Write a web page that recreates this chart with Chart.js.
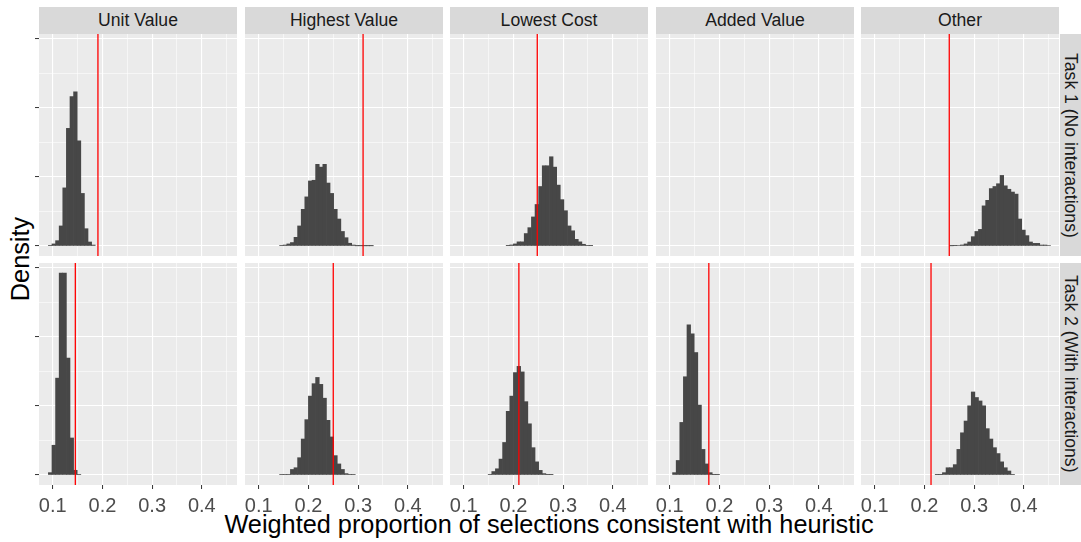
<!DOCTYPE html>
<html lang="en">
<head>
<meta charset="UTF-8">
<title>Weighted proportion of selections</title>
<script src="https://cdn.jsdelivr.net/npm/chart.js@4/dist/chart.umd.min.js"></script>
<style>
    * { margin: 0; padding: 0; box-sizing: border-box; }
    body {
        width: 1081px;
        height: 542px;
        background: #fff;
        position: relative;
        overflow: hidden;
        font-family: "Liberation Sans", Arial, sans-serif;
    }
    canvas { position: absolute; }
    .strip {
        position: absolute;
        background: #D9D9D9;
        color: #1A1A1A;
        font-size: 17.6px;
        display: flex;
        align-items: center;
        justify-content: center;
        white-space: nowrap;
    }
    .strip.side { writing-mode: vertical-rl; }
    .axis-title {
        position: absolute;
        color: #000;
        font-size: 25.3px;
        line-height: 28px;
        white-space: nowrap;
    }
</style>
</head>
<body>
<div class="axis-title" id="xTitle" style="left:39px; width:1020px; top:510px; text-align:center;">Weighted proportion of selections consistent with heuristic</div>
<div class="axis-title" id="yTitle" style="left:-30px; width:100px; top:245px; text-align:center; transform:rotate(-90deg);">Density</div>

<script>
    // facets and labels
    const facets = ['Unit Value', 'Highest Value', 'Lowest Cost', 'Added Value', 'Other'];
    const tasks = ['Task 1 (No interactions)', 'Task 2 (With interactions)'];

    // axis breaks (major ones carry labels / tick marks)
    const xBreaks = [0.1, 0.2, 0.3, 0.4];
    const xMinorBreaks = [0.15, 0.25, 0.35, 0.45];
    const yBreaks = [0, 10, 20, 30];
    const yMinorBreaks = [5, 15, 25];

    // histogram bins shared by every panel
    const binStart = 0.09125;
    const binWidth = 0.00725;

    // Task 1 densities (first = index of first bin drawn)
    const task1First = [0, 7, 13, 0, 22];
    const task1UnitValue = [0.1, 0.3, 0.77, 2.9, 8.4, 17.0, 21.6, 22.3, 15.2, 7.6, 2.5, 0.58, 0.14];
    const task1HighestValue = [0.1, 0.14, 0.3, 0.5, 1.25, 2.9, 5.3, 7.1, 9.4, 9.5, 11.8, 11.4, 11.8, 9.1, 7.6, 5.3, 3.9, 2.1, 1.2, 0.4, 0.14, 0.03, 0.03, 0.03, 0.03, 0.03];
    const task1LowestCost = [0.05, 0.15, 0.3, 0.6, 0.6, 1.8, 2.65, 4.2, 6.0, 8.6, 11.6, 11.6, 12.9, 11.4, 8.8, 6.7, 5.1, 2.9, 2.2, 0.96, 0.6, 0.25, 0.1, 0.05];
    const task1AddedValue = [];
    const task1Other = [0.03, 0.05, 0.08, 0.15, 0.3, 0.58, 1.35, 2.1, 2.4, 5.8, 6.6, 8.3, 8.6, 9.0, 10.2, 8.7, 8.2, 7.8, 7.5, 3.9, 2.3, 1.5, 0.58, 0.38, 0.38, 0.14, 0.14, 0.08];
    const task1Observed = [0.191, 0.31, 0.248, null, 0.25];

    // Task 2 densities
    const task2First = [0, 7, 8, 2, 18];
    const task2UnitValue = [0.34, 4.3, 14.0, 29.2, 29.2, 16.9, 5.35, 0.68, 0.1];
    const task2HighestValue = [0.1, 0.1, 0.1, 0.8, 1.05, 2.5, 5.2, 8.0, 11.4, 13.2, 14.1, 13.1, 11.1, 7.9, 5.5, 2.8, 1.6, 0.8, 0.2, 0.1, 0.1];
    const task2LowestCost = [0.1, 0.5, 0.9, 2.3, 4.7, 9.2, 11.4, 14.8, 15.7, 14.9, 10.6, 7.4, 3.95, 1.9, 0.67, 0.2, 0.05, 0.05];
    const task2AddedValue = [0.34, 2.1, 7.6, 14.2, 21.7, 20.4, 17.7, 10.1, 3.7, 1.6, 0.34, 0.05, 0.05];
    const task2Other = [0.05, 0.05, 0.34, 1.05, 1.05, 1.5, 3.7, 6.1, 7.8, 10.0, 12.0, 11.2, 10.7, 10.0, 6.7, 5.2, 3.95, 3.1, 1.9, 1.05, 0.58, 0.1];
    const task2Observed = [0.1455, 0.25, 0.211, 0.1787, 0.2133];

    const densities = [
        [task1UnitValue, task1HighestValue, task1LowestCost, task1AddedValue, task1Other],
        [task2UnitValue, task2HighestValue, task2LowestCost, task2AddedValue, task2Other]
    ];
    const firstBin = [task1First, task2First];
    const observed = [task1Observed, task2Observed];

    // panel layout
    const colLeft = [39, 245, 450, 656, 861];
    const rowTop = [34, 263];
    const panelW = 198, panelH = 222;
    const xMin = 0.0724, xMax = 0.4708;
    const yMin = -1.445, yMax = 30.64;

    const fontFamily = "'Liberation Sans', Arial, sans-serif";

    const near = (a, b) => Math.abs(a - b) < 1e-9;
    const isMajorX = v => xBreaks.some(b => near(b, v));
    const isMajorY = v => yBreaks.some(b => near(b, v));

    const panelBg = {
        id: 'panelBg',
        beforeDraw(chart) {
            const { ctx, chartArea: a } = chart;
            ctx.save();
            ctx.fillStyle = '#EBEBEB';
            ctx.fillRect(a.left, a.top, a.width, a.height);
            ctx.restore();
        }
    };

    // strips
    facets.forEach((name, c) => {
        const s = document.createElement('div');
        s.className = 'strip';
        s.style.left = colLeft[c] + 'px';
        s.style.top = '7px';
        s.style.width = panelW + 'px';
        s.style.height = '27px';
        s.textContent = name;
        document.body.appendChild(s);
    });
    tasks.forEach((name, r) => {
        const s = document.createElement('div');
        s.className = 'strip side';
        s.style.left = '1060px';
        s.style.top = rowTop[r] + 'px';
        s.style.width = '21px';
        s.style.height = panelH + 'px';
        s.textContent = name;
        document.body.appendChild(s);
    });

    // panels
    rowTop.forEach((top, r) => {
        facets.forEach((name, c) => {
            const leftCol = c === 0;
            const bottomRow = r === 1;
            const cv = document.createElement('canvas');
            cv.width = panelW + (leftCol ? 5 : 0);
            cv.height = panelH + (bottomRow ? 40 : 0);
            cv.style.left = (colLeft[c] - (leftCol ? 5 : 0)) + 'px';
            cv.style.top = top + 'px';
            document.body.appendChild(cv);

            const bars = densities[r][c].map((d, i) => ({
                x: binStart + (firstBin[r][c] + i + 0.5) * binWidth,
                y: d
            }));
            const datasets = [{
                type: 'bar',
                data: bars,
                backgroundColor: '#474747',
                borderWidth: 0,
                barPercentage: 1,
                categoryPercentage: 1,
                order: 1
            }];
            if (observed[r][c] !== null) {
                datasets.push({
                    type: 'line',
                    data: [{ x: observed[r][c], y: yMin }, { x: observed[r][c], y: yMax }],
                    borderColor: '#FF0000',
                    borderWidth: 1.3,
                    pointRadius: 0,
                    order: 0
                });
            }

            new Chart(cv, {
                type: 'bar',
                data: { datasets },
                plugins: [panelBg],
                options: {
                    responsive: false,
                    animation: false,
                    devicePixelRatio: 1,
                    events: [],
                    layout: { padding: 0 },
                    plugins: { legend: { display: false }, tooltip: { enabled: false } },
                    scales: {
                        x: {
                            type: 'linear',
                            bounds: 'data',
                            offset: false,
                            min: xMin,
                            max: xMax,
                            border: { display: false },
                            afterBuildTicks: s => {
                                s.ticks = xBreaks.concat(xMinorBreaks).sort((a, b) => a - b).map(v => ({ value: v }));
                            },
                            afterFit: s => {
                                s.height = bottomRow ? 40 : 0;
                                s.paddingLeft = 0;
                                s.paddingRight = 0;
                            },
                            grid: {
                                offset: false,
                                color: '#FFFFFF',
                                lineWidth: ctx => (ctx.tick && isMajorX(ctx.tick.value)) ? 1.1 : 0.55,
                                drawTicks: bottomRow,
                                tickLength: 4,
                                tickWidth: 1,
                                tickColor: ctx => (ctx.tick && isMajorX(ctx.tick.value)) ? '#333333' : 'rgba(0,0,0,0)'
                            },
                            ticks: {
                                display: bottomRow,
                                autoSkip: false,
                                maxRotation: 0,
                                padding: 5,
                                color: '#4D4D4D',
                                font: { family: fontFamily, size: 20 },
                                callback: v => isMajorX(v) ? v.toFixed(1) : ''
                            }
                        },
                        y: {
                            type: 'linear',
                            bounds: 'data',
                            min: yMin,
                            max: yMax,
                            border: { display: false },
                            afterBuildTicks: s => {
                                s.ticks = yBreaks.concat(yMinorBreaks).sort((a, b) => a - b).map(v => ({ value: v }));
                            },
                            afterFit: s => {
                                s.width = leftCol ? 5 : 0;
                                s.paddingTop = 0;
                                s.paddingBottom = 0;
                            },
                            grid: {
                                color: '#FFFFFF',
                                lineWidth: ctx => (ctx.tick && isMajorY(ctx.tick.value)) ? 1.1 : 0.55,
                                drawTicks: leftCol,
                                tickLength: 4,
                                tickWidth: 1,
                                tickColor: ctx => (ctx.tick && isMajorY(ctx.tick.value)) ? '#333333' : 'rgba(0,0,0,0)'
                            },
                            ticks: { display: false }
                        }
                    }
                }
            });
        });
    });
</script>
</body>
</html>
